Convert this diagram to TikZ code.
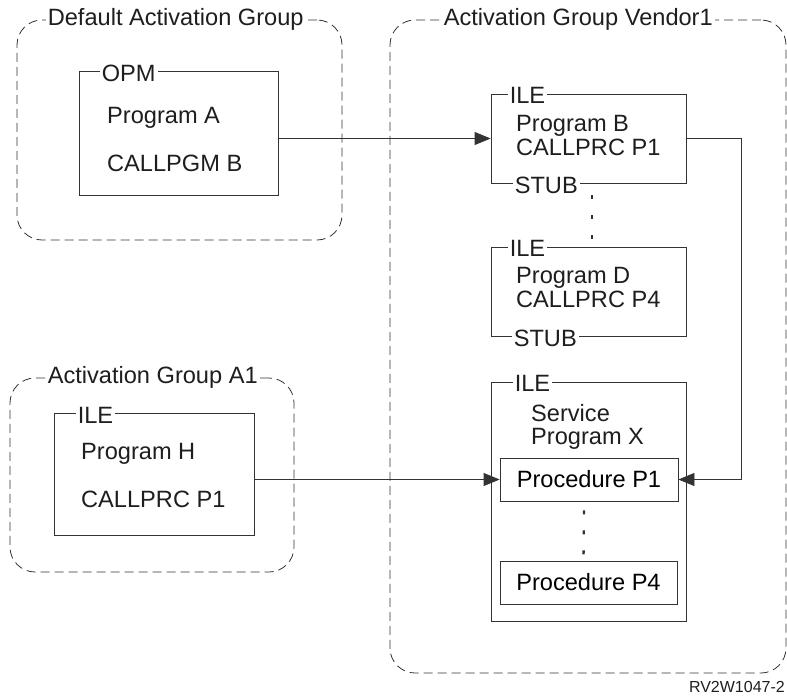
\documentclass[tikz,border=0pt]{standalone}
\usepackage{fontspec}
\setmainfont{Liberation Sans}
\usepackage{tikz}
\usetikzlibrary{arrows.meta, positioning, calc}
\definecolor{dark}{HTML}{333333}
\definecolor{ink}{HTML}{1e1e1e}
\tikzstyle{group}  = [rectangle, draw=dark, line width=0.8pt, rounded corners=25pt,
                      dash pattern=on 9pt off 5pt, inner sep=0pt]
\tikzstyle{pgmbox} = [rectangle, draw=dark, line width=0.8pt, inner sep=0pt]
\tikzstyle{tag}    = [fill=white, inner sep=2pt, text=ink]
\tikzstyle{txt}    = [anchor=base west, inner sep=0pt, text=ink]
\tikzstyle{arrow}  = [-{Triangle[length=16pt,width=13pt]}, line width=0.8pt, color=dark]
\tikzstyle{dots}   = [line width=2.4pt, dash pattern=on 4pt off 16pt, color=dark]

\begin{document}
\begin{tikzpicture}[x=1pt, y=-1pt, font=\fontsize{23.6}{25}\selectfont]
  \useasboundingbox (0,0) rectangle (787,696);

  %% Activation groups
  \node[group, minimum width=325pt, minimum height=220pt] (defgrp) at (179.5,130) {};
  \node[group, minimum width=396pt, minimum height=653pt] (vengrp) at (588,346.5) {};
  \node[group, minimum width=284pt, minimum height=194pt] (a1grp) at (152,475) {};
  \node[tag, right=29pt of defgrp.north west] (deftag) {Default Activation Group};
  \node[tag, right=52pt of vengrp.north west] (ventag) {Activation Group Vendor1};
  \node[tag, right=36pt of a1grp.north west] (a1tag) {Activation Group A1};

  %% Program boxes
  \node[pgmbox, minimum width=199pt, minimum height=124pt] (opm) at (178.5,133) {};
  \node[pgmbox, minimum width=195pt, minimum height=89pt] (progb) at (588.5,138.5) {};
  \node[pgmbox, minimum width=195pt, minimum height=89pt] (progd) at (588.5,291.5) {};
  \node[pgmbox, minimum width=195pt, minimum height=239pt] (srvx) at (588.5,501.5) {};
  \node[pgmbox, minimum width=200pt, minimum height=122pt] (progh) at (154,474) {};
  \node[pgmbox, minimum width=178pt, minimum height=43pt] (proc1) at (589,479.5) {Procedure P1};
  \node[pgmbox, minimum width=177pt, minimum height=43pt] (proc4) at (588.5,582.5) {Procedure P4};

  %% Box tags
  \node[tag, right=21pt of opm.north west, yshift=-3pt] (opmtag) {OPM};
  \node[tag, right=17pt of progb.north west, yshift=-2pt] (iletagb) {ILE};
  \node[tag, right=22pt of progb.south west, yshift=-2pt] (stubb) {STUB};
  \node[tag, right=17pt of progd.north west, yshift=-2pt] (iletagd) {ILE};
  \node[tag, right=21pt of progd.south west, yshift=-2pt] (stubd) {STUB};
  \node[tag, right=22pt of srvx.north west, yshift=-2pt] (iletagx) {ILE\hspace{6pt}};
  \node[tag, right=22pt of progh.north west, yshift=-3pt] (iletagh) {ILE};

  %% Box texts
  \node[txt] (pgma) at (107,123) {Program A};
  \node[txt] (callb) at (107,171) {CALLPGM B};
  \node[txt] (pgmb) at (516,131) {Program B};
  \node[txt] (callp1) at (516,155) {CALLPRC P1};
  \node[txt] (pgmd) at (516,283) {Program D};
  \node[txt] (callp4) at (516,307) {CALLPRC P4};
  \node[txt] (srvtxt) at (531,421) {Service};
  \node[txt] (srvname) at (531,444) {Program X};
  \node[txt] (pgmh) at (81,459) {Program H};
  \node[txt] (callh) at (81,507) {CALLPRC P1};

  %% Dots
  \draw[dots] ($(progb.south)+(3.5,12)$) -- ($(progd.north)+(3.5,-8)$);
  \draw[dots] ($(proc1.south)+(-5,9)$) -- ($(proc4.north)+(-5,-4)$);

  %% Arrows
  \draw[arrow] (opm.east |- progb.west) -- (progb.west);
  \draw[arrow] (progh.east |- proc1.west) -- (proc1.west);
  \draw[arrow] (progb.east) -- ++(55,0) |- (proc1.east);

  \node[anchor=base east, inner sep=0pt, text=ink, font=\fontsize{16}{18}\selectfont] (figid)
        at (785,692) {RV2W1047-2};

\end{tikzpicture}
\end{document}
